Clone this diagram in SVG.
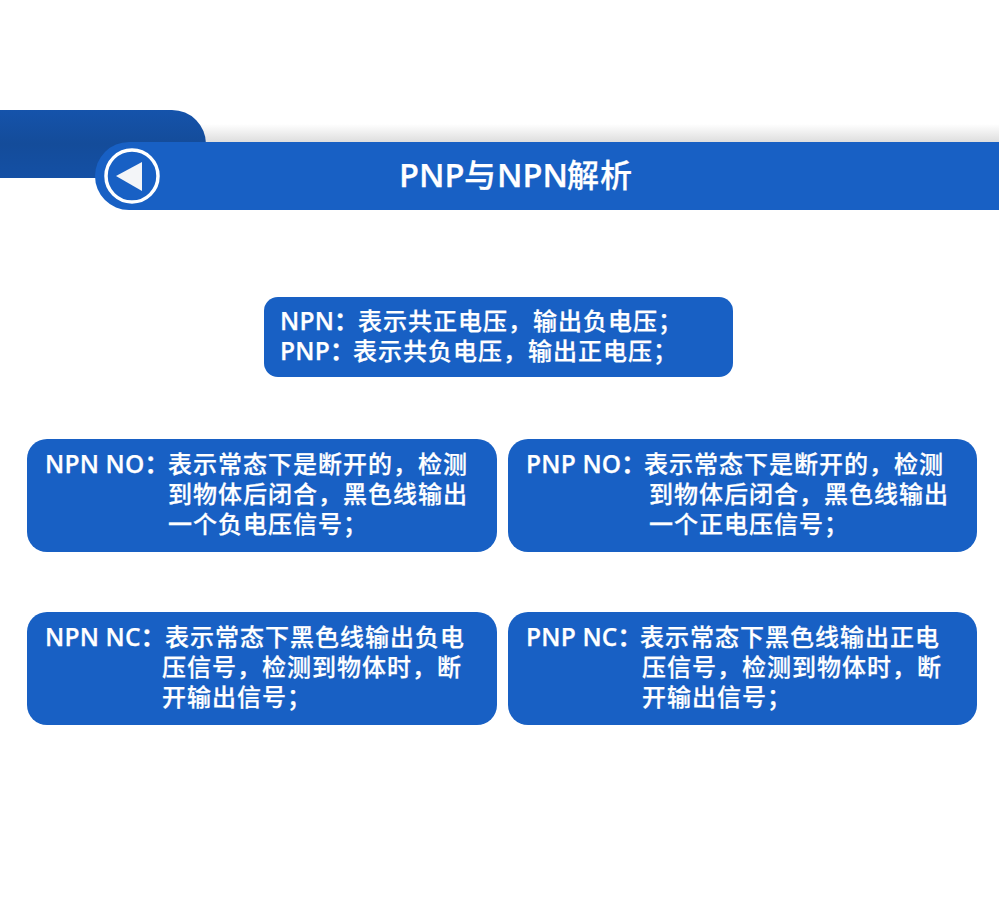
<svg xmlns="http://www.w3.org/2000/svg" width="999" height="900" viewBox="0 0 999 900">
<style>
text{font-family:"Open Sans","Noto Sans CJK SC",sans-serif;font-weight:500;fill:#fff;font-size:24px;letter-spacing:1px;stroke:#fff;stroke-width:.25px}
.l{font-weight:600;font-size:24.5px;letter-spacing:0.2px}
.box{fill:#1860c4}
.t{font-size:32px;letter-spacing:1px}
.tl{font-weight:600;font-size:32.5px;letter-spacing:0}
</style>
<defs>
<linearGradient id="sh" x1="0" y1="0" x2="0" y2="1"><stop offset="0" stop-color="#fff"/><stop offset="1" stop-color="#dcdcdc"/></linearGradient>
<linearGradient id="tab" x1="0" y1="0" x2="0" y2="1"><stop offset="0" stop-color="#1553ab"/><stop offset="0.5" stop-color="#144c9a"/><stop offset="1" stop-color="#1450a5"/></linearGradient>
</defs>
<rect width="999" height="900" fill="#fff"/>
<g id="header">
<rect x="200" y="124" width="799" height="19" fill="url(#sh)"/>
<path d="M0 110H172A34 34 0 0 1 206 144V178H0Z" fill="url(#tab)"/>
<path d="M129 142H999V210H129A34 34 0 0 1 129 142Z" fill="#1860c4"/>
<circle cx="132" cy="176" r="26" fill="none" stroke="#fff" stroke-width="3.5"/>
<path d="M116 176L142 162V191Z" fill="#f3f5f8"/>
<text x="399" y="187" class="t"><tspan class="tl">PNP</tspan><tspan x="464">与</tspan><tspan x="497" class="tl">NPN</tspan><tspan x="567">解析</tspan></text>
</g>
<g id="node-top">
<rect class="box" x="264" y="297" width="469" height="80" rx="14"/>
<text y="330"><tspan x="280" class="l">NPN：</tspan><tspan x="358">表示共正电压，输出负电压；</tspan></text>
<text y="360"><tspan x="280" class="l">PNP：</tspan><tspan x="353">表示共负电压，输出正电压；</tspan></text>
</g>
<g id="node-npn-no">
<rect class="box" x="27" y="439" width="470" height="113" rx="20"/>
<text y="473"><tspan x="45" class="l">NPN NO：</tspan><tspan x="168">表示常态下是断开的，检测</tspan></text>
<text x="168" y="503">到物体后闭合，黑色线输出</text>
<text x="168" y="533">一个负电压信号；</text>
</g>
<g id="node-pnp-no">
<rect class="box" x="508" y="439" width="469" height="113" rx="20"/>
<text y="473"><tspan x="526" class="l">PNP NO：</tspan><tspan x="644">表示常态下是断开的，检测</tspan></text>
<text x="649" y="503">到物体后闭合，黑色线输出</text>
<text x="649" y="533">一个正电压信号；</text>
</g>
<g id="node-npn-nc">
<rect class="box" x="27" y="612" width="470" height="113" rx="20"/>
<text y="646"><tspan x="45" class="l">NPN NC：</tspan><tspan x="165">表示常态下黑色线输出负电</tspan></text>
<text x="162" y="676">压信号，检测到物体时，断</text>
<text x="162" y="706">开输出信号；</text>
</g>
<g id="node-pnp-nc">
<rect class="box" x="508" y="612" width="469" height="113" rx="20"/>
<text y="646"><tspan x="526" class="l">PNP NC：</tspan><tspan x="640">表示常态下黑色线输出正电</tspan></text>
<text x="642" y="676">压信号，检测到物体时，断</text>
<text x="642" y="706">开输出信号；</text>
</g>
<g id="connectors"/>
</svg>
